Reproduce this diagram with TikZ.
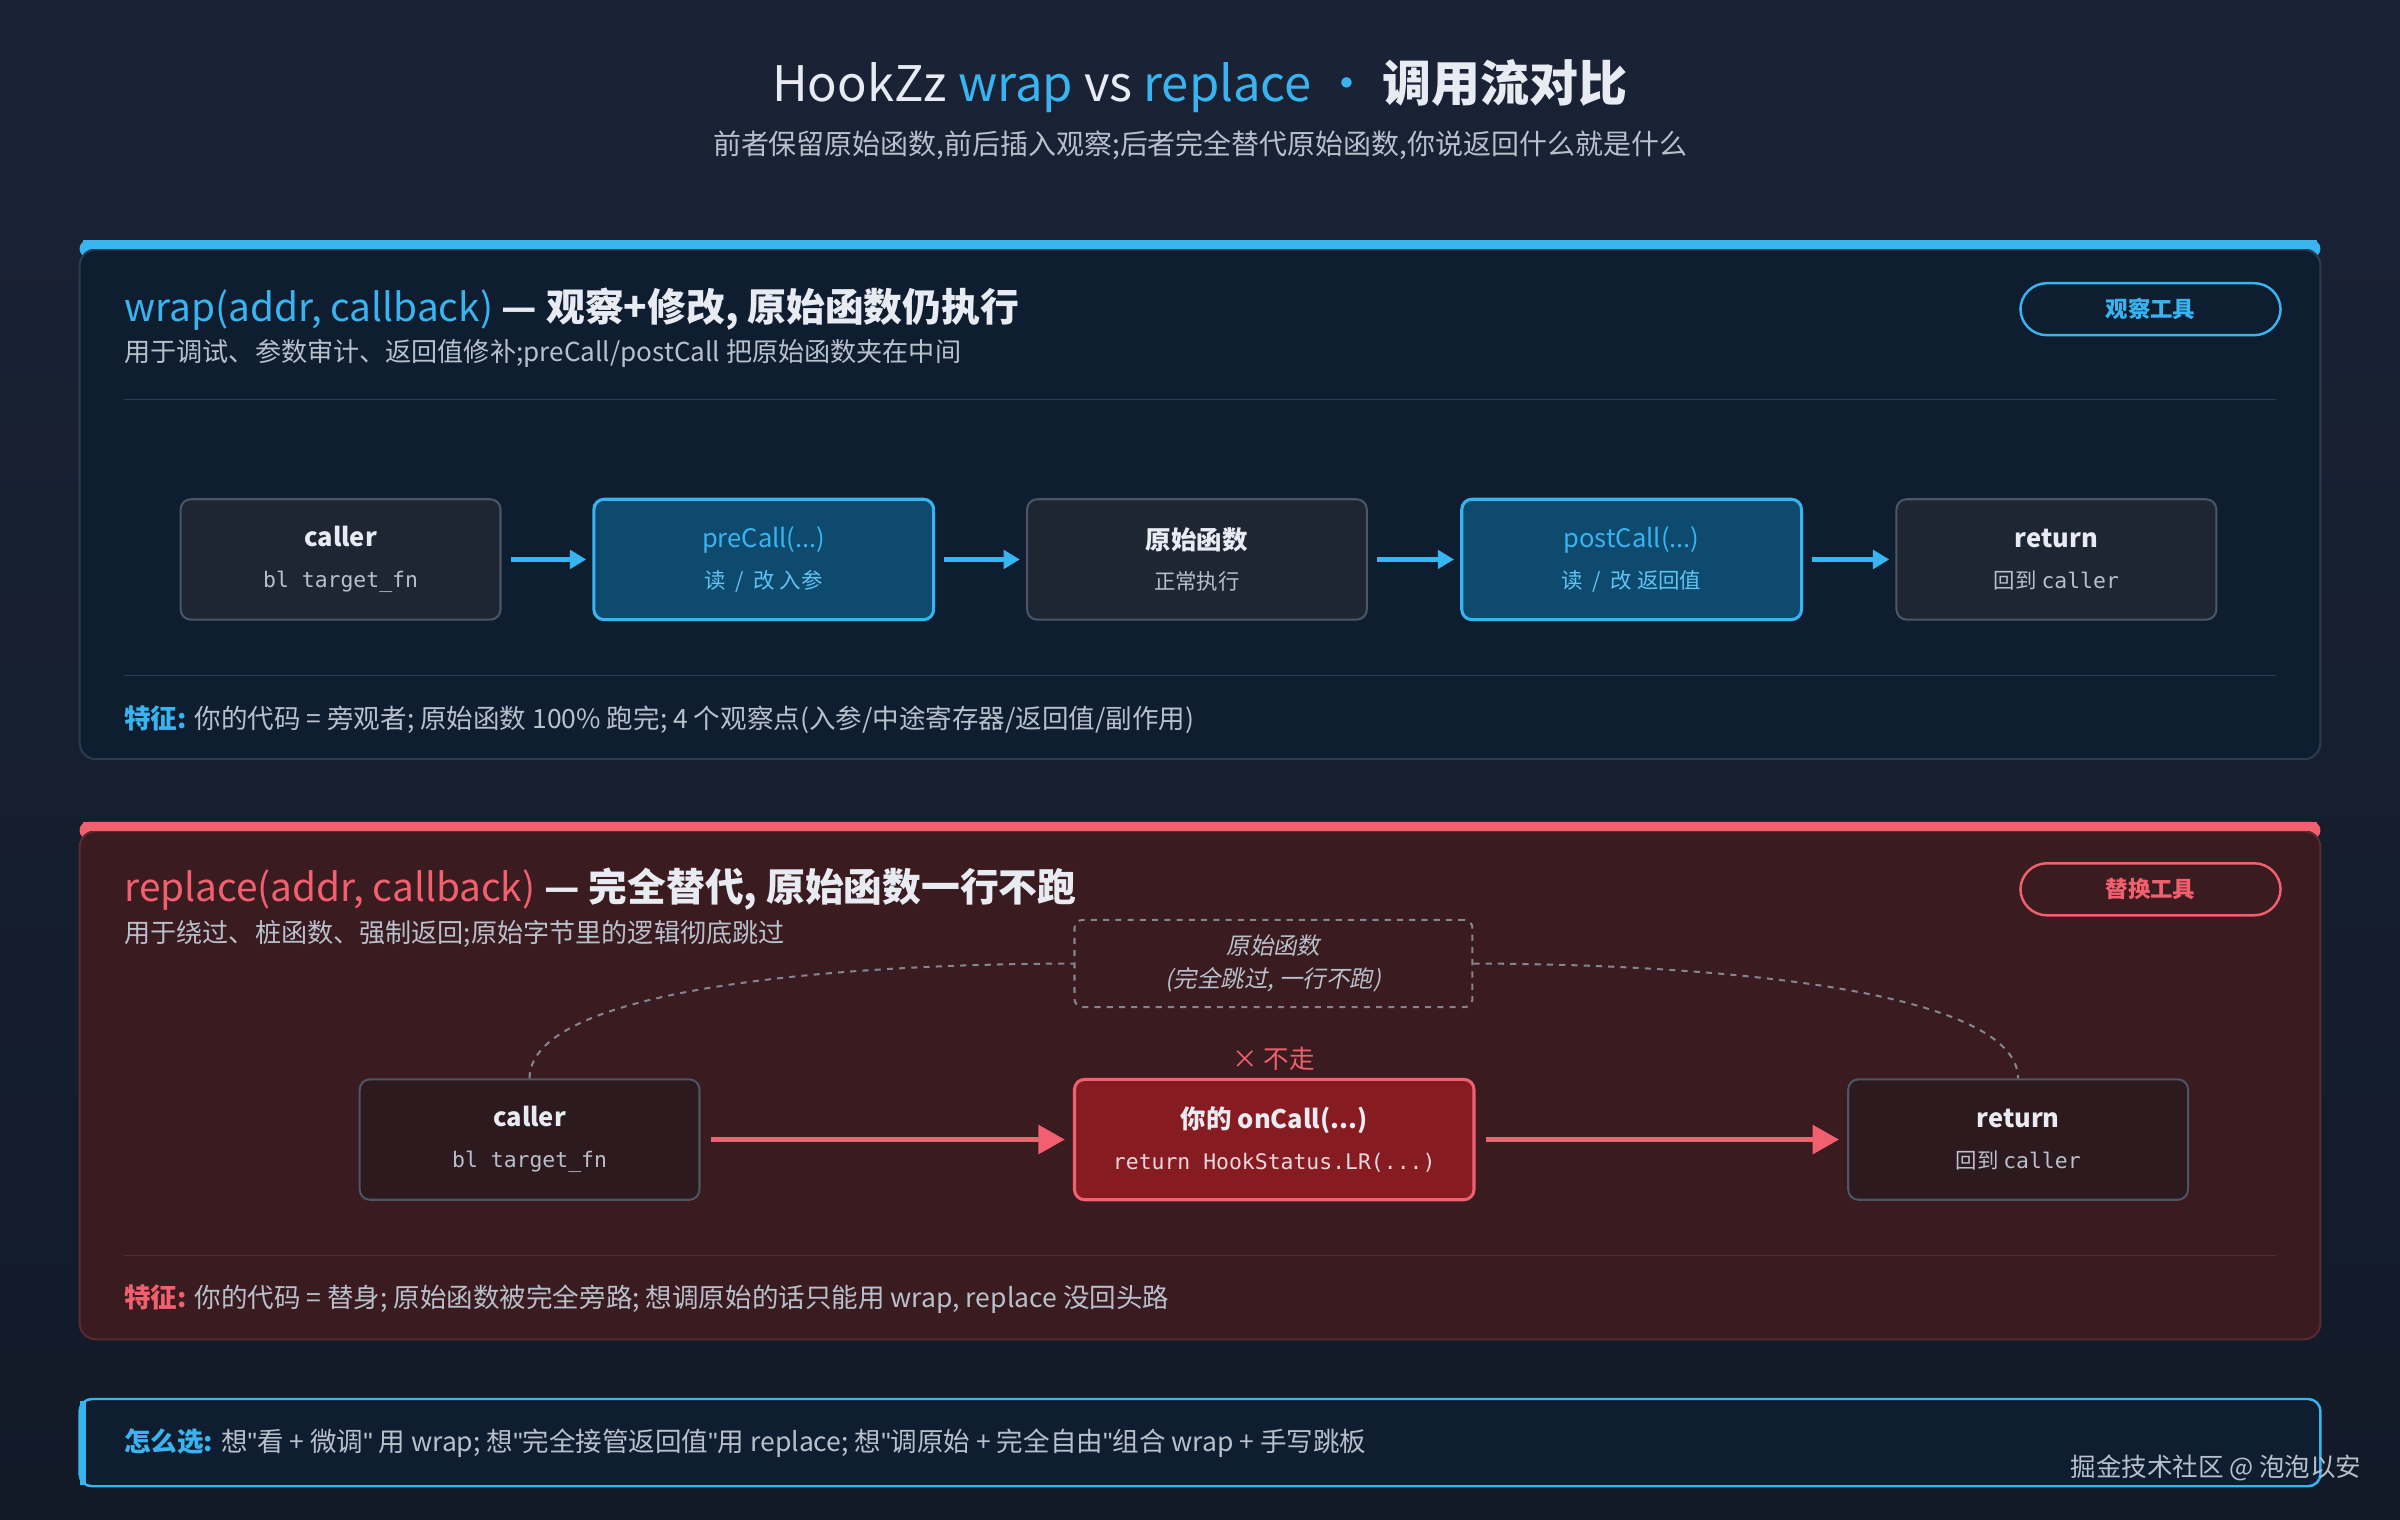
\documentclass[tikz,border=0pt]{standalone}
\usepackage{fontspec}
\setmainfont{Noto Sans CJK SC}
\setmonofont{DejaVu Sans Mono}
\newfontfamily\cjk{Noto Sans CJK SC}
\newfontfamily\cjkit[FakeSlant=0.2]{Noto Sans CJK SC}
\newfontfamily\lat{Liberation Sans}
\newcommand{\q}{{\lat"}}
\usetikzlibrary{arrows.meta}
\newcommand{\fsz}[1]{\fontsize{#1}{#1}\selectfont}
\definecolor{bgA}{HTML}{1A2336}
\definecolor{bgB}{HTML}{121A28}
\definecolor{pA}{HTML}{0F1D30}
\definecolor{pB}{HTML}{3A1B20}
\definecolor{bord}{HTML}{2C3B52}
\definecolor{bordR}{HTML}{5A2A30}
\definecolor{blu}{HTML}{38B4F0}
\definecolor{pnk}{HTML}{F2606F}
\definecolor{txt}{HTML}{E8ECF2}
\definecolor{sub}{HTML}{B8C0CC}
\definecolor{nbox}{HTML}{1E2533}
\definecolor{nbord}{HTML}{4C5566}
\definecolor{hbox}{HTML}{0E4A6E}
\definecolor{rbox}{HTML}{861C22}
\definecolor{dbox}{HTML}{2C1A1E}
\begin{document}
\begin{tikzpicture}[x=0.75pt,y=-0.75pt,
  nb/.style={draw=nbord,fill=nbox,line width=1pt,rounded corners=5pt,minimum width=#1*0.75pt,minimum height=59pt,align=center,text=txt,inner sep=0pt},
  hb/.style={draw=blu,fill=hbox,line width=1.5pt,rounded corners=5pt,minimum width=222*0.75pt,minimum height=59pt,align=center,inner sep=0pt},
  ba/.style={-{Triangle[length=8pt,width=9pt]},blu,line width=2.2pt},
  ra/.style={-{Triangle[length=13pt,width=14pt]},pnk,line width=2.2pt},
  lbl/.style={anchor=west,inner sep=0pt}]
\useasboundingbox (0,0) rectangle (1568,993);
\shade[top color=bgA,bottom color=bgB] (0,0) rectangle (1568,993);
% title
\node (title) at (784,56) {\fsz{24}\color{txt}HookZz \textcolor{blu}{wrap} vs \textcolor{blu}{replace} \textcolor{blu}{·} \textbf{调用流对比}};
\node (subt) at (784,95) {\fsz{13.7}\color{sub}前者保留原始函数,前后插入观察;后者完全替代原始函数,你说返回什么就是什么};
% panel 1
\fill[blu,rounded corners=4pt] (52,157) rectangle (1516,168);
\draw[bord,fill=pA,line width=1pt,rounded corners=8pt] (52,163) rectangle (1516,496);
\fill[blu] (54,157) rectangle (1514,163);
\node[lbl] (h1) at (81,202) {\fsz{19}\textcolor{blu}{wrap(addr, callback)}\textcolor{txt}{\bfseries\ — 观察+修改, 原始函数仍执行}};
\node[lbl] (s1) at (81,231) {\fsz{12.8}\color{sub}用于调试、参数审计、返回值修补;preCall/postCall 把原始函数夹在中间};
\node[draw=blu,line width=1.2pt,rounded corners=13pt,minimum width=170*0.75pt,minimum height=34*0.75pt,text=blu] (b1) at (1405,202) {\fsz{11}\bfseries 观察工具};
\draw[bord] (81,261) -- (1487,261);
\draw[bord] (81,441) -- (1487,441);
\node[nb=209] (c1) at (222.5,365.5) {\fsz{12.5}\bfseries caller\\[8pt]\fsz{10.5}\ttfamily\color{sub}bl target\_fn};
\node[hb] (pre) at (499,365.5) {\fsz{12.5}\color{blu}preCall(...)\\[8pt]\fsz{10.5}\color{blu!80!white}读 \ / \ 改 入参};
\node[nb=222] (orig) at (782,365.5) {\fsz{12.5}\bfseries 原始函数\\[8pt]\fsz{10.5}\color{sub}正常执行};
\node[hb] (post) at (1066,365.5) {\fsz{12.5}\color{blu}postCall(...)\\[8pt]\fsz{10.5}\color{blu!80!white}读 \ / \ 改 返回值};
\node[nb=209] (r1) at (1343.5,365.5) {\fsz{12.5}\bfseries return\\[8pt]\fsz{10.5}\color{sub}回到 \ttfamily caller};
\draw[ba] ([xshift=4.5pt]c1.east) -- ([xshift=-3pt]pre.west);
\draw[ba] ([xshift=4.5pt]pre.east) -- ([xshift=-3pt]orig.west);
\draw[ba] ([xshift=4.5pt]orig.east) -- ([xshift=-3pt]post.west);
\draw[ba] ([xshift=4.5pt]post.east) -- ([xshift=-3pt]r1.west);
\node[lbl] (f1) at (81,470) {\fsz{13}\textcolor{blu}{\bfseries 特征:} \textcolor{sub}{你的代码 = 旁观者; 原始函数 100\% 跑完; 4 个观察点(入参/中途寄存器/返回值/副作用)}};
% panel 2
\fill[pnk,rounded corners=4pt] (52,537) rectangle (1516,548);
\draw[bordR,fill=pB,line width=1pt,rounded corners=8pt] (52,543) rectangle (1516,875);
\fill[pnk] (54,537) rectangle (1514,543);
\node[lbl] (h2) at (81,581) {\fsz{19}\textcolor{pnk}{replace(addr, callback)}\textcolor{txt}{\bfseries\ — 完全替代, 原始函数一行不跑}};
\node[lbl] (s2) at (81,610) {\fsz{12.8}\color{sub}用于绕过、桩函数、强制返回;原始字节里的逻辑彻底跳过};
\node[draw=pnk,line width=1.2pt,rounded corners=13pt,minimum width=170*0.75pt,minimum height=34*0.75pt,text=pnk] (b2) at (1405,581) {\fsz{11}\bfseries 替换工具};
\draw[bordR] (81,820) -- (1487,820);
\node[draw=sub!70!black,dashed,line width=1pt,rounded corners=4pt,minimum width=260*0.75pt,minimum height=57*0.75pt,align=center,text=sub] (skip) at (832,629.5) {\fsz{11.5}\cjkit 原始函数\\[4pt]\fsz{11.5}\cjkit (完全跳过, 一行不跑)};
\node[nb=222,fill=dbox] (c2) at (346,744.5) {\fsz{12.5}\bfseries caller\\[8pt]\fsz{10.5}\ttfamily\color{sub}bl target\_fn};
\node[draw=pnk,fill=rbox,line width=1.5pt,rounded corners=5pt,minimum width=261*0.75pt,minimum height=59pt,align=center,text=txt,inner sep=0pt] (on) at (832.5,744.5) {\fsz{12.5}\bfseries 你的 onCall(...)\\[8pt]\fsz{10.5}\ttfamily\color{txt!85!pnk}return HookStatus.LR(...)};
\node[nb=222,fill=dbox] (r2) at (1318.5,744.5) {\fsz{12.5}\bfseries return\\[8pt]\fsz{10.5}\color{sub}回到 \ttfamily caller};
\node (no) at (832,692) {\fsz{12.5}\color{pnk}× 不走};
\draw[ra] ([xshift=5pt]c2.east) -- ([xshift=-4pt]on.west);
\draw[ra] ([xshift=5pt]on.east) -- ([xshift=-4pt]r2.west);
\draw[sub!70!black,dashed,line width=1pt] (c2.north) .. controls (346,650) and (520,630) .. (skip.west);
\draw[sub!70!black,dashed,line width=1pt] (skip.east) .. controls (1140,630) and (1318,650) .. (r2.north);
\node[lbl] (f2) at (81,849) {\fsz{13}\textcolor{pnk}{\bfseries 特征:} \textcolor{sub}{你的代码 = 替身; 原始函数被完全旁路; 想调原始的话只能用 wrap, replace 没回头路}};
% bottom
\draw[blu,fill=pA,line width=1.2pt,rounded corners=6pt] (52,914) rectangle (1516,971);
\fill[blu] (52,915) rectangle (56,970);
\node[lbl] (tip) at (81,943) {\fsz{13}\textcolor{blu}{\bfseries 怎么选:} \textcolor{sub}{想\q 看 + 微调\q{} 用 wrap; 想\q 完全接管返回值\q 用 replace; 想\q 调原始 + 完全自由\q 组合 wrap + 手写跳板}};
\node[anchor=east,inner sep=0pt] (wm) at (1543,959) {\fsz{12.5}\color{sub}掘金技术社区 @ 泡泡以安};
\end{tikzpicture}
\end{document}
